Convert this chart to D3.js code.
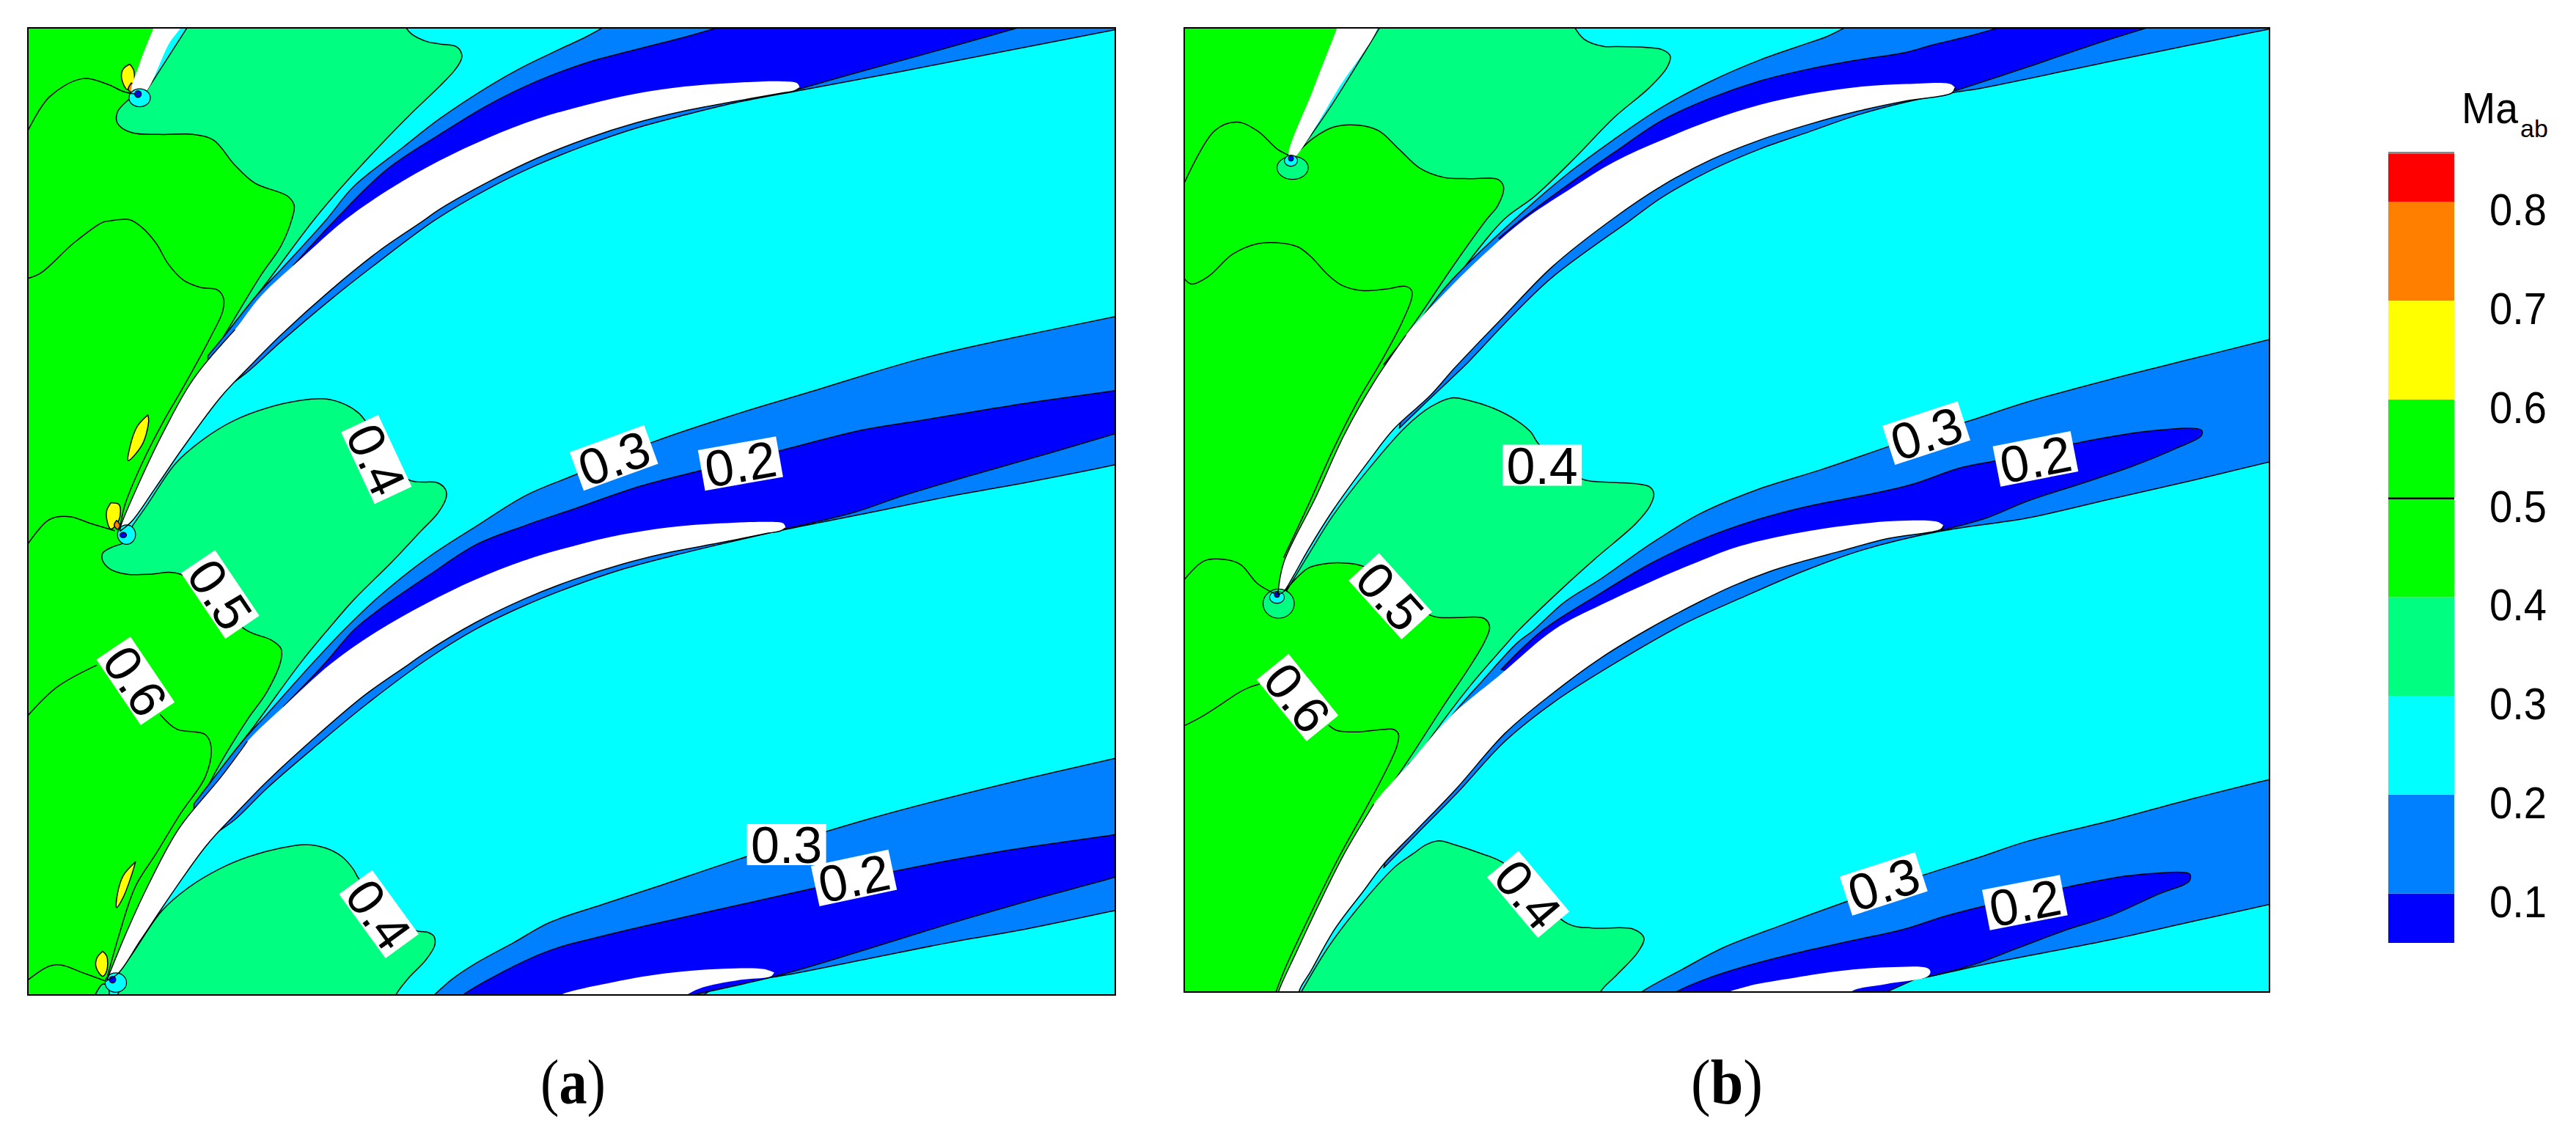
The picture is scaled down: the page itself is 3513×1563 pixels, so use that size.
<!DOCTYPE html>
<html><head><meta charset="utf-8">
<style>html,body{margin:0;background:#fff}svg{display:block}text{font-family:"Liberation Sans",Arial,sans-serif}</style>
<script src="https://cdn.jsdelivr.net/npm/d3@7/dist/d3.min.js"></script></head><body>
<script>
/* Mach-number bands of the colour bar */
const bandEdges=[0.05,0.1,0.2,0.3,0.4,0.6,0.7,0.8,0.85];
const bandColors=["#0000ff","#0080ff","#00ffff","#00ff80","#00ff00","#ffff00","#ff8000","#ff0000"];
const barTicks=[0.8,0.7,0.6,0.5,0.4,0.3,0.2,0.1];
const C={blue:"#0000ff",azure:"#0080ff",spring:"#00ff80",green:"#00ff00",yellow:"#ffff00",orange:"#ff8000",cyan:"#00ffff"};
const rev=a=>a.slice().reverse();

/* ---------- panel (a) contour geometry, grid units ---------- */
const aS1Left=[[165,255],[155,270],[143,300],[143,330],[160,355],[195,360],[235,360],[260,375],[285,440],[310,490],[350,525],[358,550],[355,588],[342,658],[318,735],[283,861],[268,917],[262,945]];
const aS1Right=[[490,60],[500,90],[520,112],[535,118],[556,126],[562,147],[561,161],[553,189],[535,231],[500,305],[460,395],[420,490],[382,588],[327,749],[283,875],[262,945]];
const aS1Blade=[[178,245],[232,60]];
const aS2Left=[[148,1455],[135,1465],[125,1480],[125,1500],[134,1522],[155,1536],[181,1536],[220,1536],[300,1686],[330,1712],[342,1735],[342,1765],[325,1850],[301,1925],[266,2050],[248,2125]];
const aS2Upper=[[162,1404],[179,1351],[214,1239],[247,1176],[283,1127],[324,1092],[366,1071],[396,1067],[420,1082],[437,1106],[445,1127],[495,1281],[533,1292],[542,1309],[543,1330],[533,1372],[512,1421],[476,1505],[431,1603],[399,1684],[365,1775],[310,1940],[266,2065],[248,2125]];
const aS3Upper=[[145,2600],[162,2548],[197,2436],[230,2373],[268,2323],[303,2291],[342,2268],[372,2259],[396,2268],[416,2291],[430,2325],[437,2351],[504,2487],[521,2494],[528,2504],[529,2528],[518,2568],[497,2616],[482,2660],[480,2680]];
const aS3Base=[[140,2680],[147,2640]];
const aS4=[[112,2680],[125,2632],[132,2640],[132,2680]];
const aGreenTop=[[20,60],[190,60]];
const aGreenBlade1=[[190,60],[165,255]];
const aGreenBlade2=[[262,945],[225,1100],[185,1250],[147,1425]];
const aGreenBlade3=[[248,2125],[215,2280],[178,2440],[130,2622]];
const aGreenBase=[[130,2622],[115,2680],[20,2680]];
const aAzure1Upper=[[745,60],[714,98],[684,129],[634,182],[595,231],[535,318],[490,395],[430,500],[397,588],[342,721],[312,791],[274,896],[253,952]];
const aAzure1Lower=[[253,1106],[274,1043],[304,990],[342,914],[402,802],[461,700],[530,588],[595,504],[654,441],[714,388],[774,343],[833,308],[893,276],[976,241],[1100,190],[1240,130],[1357,80],[1372,74],[1372,60]];
const aBlue1Upper=[[895,60],[836,98],[774,133],[714,168],[654,217],[595,280],[535,360],[470,455],[408,588],[357,710]];
const aBlue1Mid=[[400,690],[470,600],[560,460],[650,370],[770,290],[890,250],[970,235]];
const aBlue1Right=[[970,240],[1050,190],[1150,130],[1262,60]];
const aAzure2Upper=[[1372,840],[1357,847],[1230,905],[1120,960],[982,1051],[900,1105],[794,1183],[700,1270],[640,1325],[580,1407],[521,1491],[461,1596],[418,1686],[380,1775],[325,1910],[295,1983],[257,2090],[236,2150]];
const aAzure2Lower=[[236,2300],[257,2240],[287,2190],[325,2108],[385,1994],[444,1887],[518,1766],[578,1684],[637,1621],[697,1568],[757,1523],[816,1488],[876,1456],[956,1416],[1050,1375],[1150,1330],[1250,1290],[1357,1243],[1372,1235]];
const aBlue2Upper=[[1372,1040],[1357,1045],[1230,1085],[1120,1125],[1050,1150],[950,1205],[850,1260],[780,1300],[700,1360],[640,1405],[580,1456],[521,1540],[461,1631],[431,1684],[395,1775],[345,1890]];
const aBlue2Mid=[[385,1880],[470,1760],[570,1620],[690,1510],[820,1440],[950,1408]];
const aBlue2Right=[[955,1415],[1040,1370],[1100,1325],[1200,1260],[1280,1210],[1357,1160],[1372,1150]];
const aAzure3Upper=[[1372,2020],[1357,2028],[1250,2082],[1150,2136],[1050,2195],[900,2297],[800,2371],[732,2420],[669,2467],[625,2521],[580,2575],[550,2619],[529,2660],[520,2680]];
const aAzure3Lower=[[845,2680],[880,2630],[945,2612],[1050,2567],[1150,2523],[1250,2484],[1357,2435],[1372,2428]];
const aBlue3Upper=[[1372,2226],[1357,2232],[1230,2273],[1130,2312],[1000,2371],[900,2420],[800,2469],[732,2504],[684,2531],[654,2555],[595,2619],[564,2660],[555,2680]];
const aBlue3Lower=[[800,2680],[945,2610],[1050,2542],[1150,2474],[1250,2410],[1357,2346],[1372,2335]];
const aBlade1=[[190,60],[222,60],[205,120],[178,245],[168,258],[160,250],[170,170],[190,60]];
const aBlade2Suction=[[973,235],[970,223],[952,218],[893,222],[833,232],[774,251],[714,281],[654,318],[595,368],[535,430],[475,505],[420,588],[366,693],[318,791],[286,882],[235,1015],[199,1155],[170,1288],[147,1407],[146,1421]];
const aBlade2Pressure=[[146,1421],[161,1393],[188,1309],[223,1197],[268,1064],[304,980],[342,896],[402,777],[461,672],[515,591],[535,560],[595,486],[654,423],[714,371],[774,329],[833,297],[893,272],[952,249],[967,243],[973,235]];
const aBlade3Suction=[[956,1412],[953,1400],[935,1396],[876,1400],[816,1410],[757,1430],[697,1461],[637,1500],[578,1551],[518,1615],[458,1690],[403,1775],[349,1882],[301,1983],[269,2078],[218,2215],[182,2360],[153,2498],[130,2622]];
const aBlade3Pressure=[[130,2622],[144,2603],[171,2515],[206,2400],[251,2262],[287,2176],[325,2090],[385,1969],[444,1859],[498,1776],[518,1745],[578,1666],[637,1603],[697,1551],[757,1509],[816,1477],[876,1452],[935,1426],[950,1420],[956,1412]];
const aBlade4Suction=[[942,2601],[930,2592],[880,2591],[800,2606],[732,2633],[705,2646],[683,2660],[670,2680]];
const aBlade4Pressure=[[822,2680],[850,2645],[900,2621],[938,2611],[942,2601]];
const aLines=[[[34,350],[60,260],[100,211],[130,225],[150,245],[165,252]],
 [[34,745],[50,730],[90,650],[125,595],[134,591],[158,588],[173,609],[190,651],[205,707],[223,749],[244,769],[265,776],[272,798],[271,833],[256,903],[223,1036],[199,1127],[173,1239],[152,1351],[146,1414]],
 [[34,1455],[60,1390],[85,1382],[110,1400],[140,1420]],
 [[34,1914],[70,1837],[118,1779]],
 [[195,1911],[215,1950],[250,1965],[257,1999],[250,2077],[220,2175],[190,2283],[165,2370],[145,2500],[131,2610]],
 [[34,2621],[60,2584],[75,2581],[100,2601],[130,2625]]];
const aYellow=[[[158,172],[163,190],[162,230],[155,240],[148,210],[150,185],[158,172]],
 [[180,1110],[181,1127],[173,1190],[156,1232],[158,1197],[167,1141],[180,1110]],
 [[135,1345],[145,1350],[145,1390],[135,1415],[130,1390],[130,1365],[135,1345]],
 [[165,2305],[160,2342],[150,2400],[142,2427],[143,2390],[150,2342],[165,2305]],
 [[125,2544],[130,2557],[130,2596],[125,2611],[117,2587],[118,2562],[125,2544]]];
const aOrange=[[[160,222],[164,235],[162,248],[156,240],[160,222]],[[142,1392],[146,1405],[143,1416],[139,1405],[142,1392]]];
/* elliptical leading-edge bubbles: cx, cy, rx, ry, colour */
const aBubbles=[[170,262,13,24,C.cyan],[168,252,4,9,C.blue],[154,1430,11,26,C.cyan],[150,1431,4,7,C.blue],[141,2628,13,26,C.cyan],[137,2620,4,9,C.blue]];
const aLabels=[["0.4",458,1229,65],["0.3",747,1225,-20],["0.2",901,1240,-10],["0.5",268,1590,56],["0.6",165,1821,56],["0.3",957,2259,0],["0.2",1039,2348,-12],["0.4",461,2445,54]];

/* ---------- panel (b) contour geometry, grid units ---------- */
const bS1Left=[[15,400],[30,370],[55,340],[85,335],[110,350],[135,400],[160,450],[190,475],[220,478],[255,480],[262,500],[255,550],[241,588],[202,707],[161,840],[134,924],[116,975]];
const bS1Right=[[345,60],[360,105],[385,125],[396,125],[434,127],[455,133],[465,150],[461,181],[440,234],[396,316],[350,420],[300,525],[262,588],[202,749],[161,868],[134,925],[116,975]];
const bS1Blade=[[15,400],[50,290],[115,60]];
const bS2Left=[[-6,1585],[9,1547],[24,1519],[42,1508],[65,1505],[92,1515],[173,1645],[184,1651],[208,1651],[238,1653],[245,1676],[239,1715],[220,1785],[190,1883],[155,2002],[125,2100]];
const bS2Upper=[[-3,1582],[24,1484],[54,1379],[98,1253],[143,1141],[173,1088],[199,1064],[220,1071],[250,1092],[277,1123],[295,1155],[305,1188],[358,1281],[367,1286],[396,1290],[425,1294],[440,1302],[445,1320],[440,1354],[423,1400],[375,1491],[336,1568],[280,1686],[264,1725],[220,1837],[175,1967],[140,2079],[125,2100]];
const bS3Upper=[[16,2650],[50,2527],[92,2408],[130,2317],[152,2282],[168,2258],[183,2248],[202,2258],[235,2282],[261,2306],[340,2469],[370,2481],[420,2484],[433,2508],[425,2547],[400,2606],[380,2652],[378,2680]];
const bS3Base=[[14,2680]];
const bGreenTop=[[-140,60],[70,60]];
const bGreenBlade1=[[70,60],[0,415]];
const bGreenBlade2=[[116,975],[110,1100],[70,1250],[25,1420],[-6,1585]];
const bGreenBlade3=[[125,2100],[105,2250],[55,2420],[20,2560],[0,2680]];
const bGreenBase=[[0,2680],[-140,2680]];
const bAzure1Upper=[[690,60],[656,98],[634,115],[574,161],[515,217],[455,287],[396,374],[340,465],[275,588],[196,756],[161,854]];
const bAzure1Lower=[[135,1145],[168,1075],[220,966],[262,868],[321,742],[417,588],[455,528],[515,455],[574,399],[634,353],[693,308],[753,273],[812,247],[842,237],[1000,165],[1100,120],[1195,78],[1210,70],[1210,60]];
const bBlue1Upper=[[890,60],[865,75],[827,98],[782,122],[753,140],[693,161],[634,185],[574,217],[515,262],[455,322],[396,409],[340,495],[283,588],[256,637]];
const bBlue1Mid=[[270,660],[340,560],[420,460],[520,370],[620,295],[720,250],[808,235]];
const bBlue1Right=[[812,243],[900,180],[980,120],[1068,60]];
const bAzure2Upper=[[1210,900],[1195,908],[1100,960],[1000,1015],[900,1075],[830,1125],[750,1180],[650,1255],[570,1310],[500,1375],[440,1456],[381,1547],[336,1610],[298,1686],[279,1718],[235,1823],[205,1897],[175,1981],[146,2044]];
const bAzure2Lower=[[116,2320],[156,2230],[205,2121],[264,1981],[324,1876],[400,1770],[480,1670],[550,1600],[625,1529],[700,1470],[795,1420],[900,1385],[1000,1335],[1100,1285],[1195,1235],[1210,1227]];
const bBlue2Upper=[[1090,1145],[1040,1155],[960,1185],[880,1225],[820,1250],[760,1295],[700,1325],[630,1355],[570,1390],[500,1445],[440,1508],[381,1585],[309,1686],[259,1790]];
const bBlue2Mid=[[280,1800],[380,1660],[500,1540],[640,1440],[795,1408]];
const bBlue2Right=[[795,1418],[850,1385],[900,1340],[970,1290],[1030,1245],[1080,1200],[1112,1165],[1112,1150],[1090,1145]];
const bAzure3Upper=[[1210,2076],[1195,2084],[1100,2136],[1000,2195],[900,2249],[840,2293],[770,2342],[680,2410],[600,2474],[530,2533],[480,2591],[430,2652],[415,2680]];
const bAzure3Lower=[[705,2680],[740,2630],[780,2611],[850,2577],[920,2547],[1000,2513],[1100,2464],[1195,2418],[1210,2410]];
const bBlue3Upper=[[1075,2332],[1020,2342],[950,2371],[880,2405],[800,2449],[750,2484],[690,2513],[620,2547],[560,2581],[510,2616],[472,2652],[455,2680]];
const bBlue3Mid=[[700,2680],[780,2601]];
const bBlue3Right=[[780,2611],[830,2582],[890,2533],[950,2484],[1000,2449],[1060,2390],[1097,2356],[1098,2337],[1075,2332]];
const bBlade1=[[62,60],[108,60],[60,240],[10,415],[3,425],[0,415],[30,240],[62,60]];
const bBlade2Suction=[[812,235],[806,225],[753,225],[693,233],[634,252],[574,281],[515,322],[455,375],[396,434],[340,510],[287,588],[232,693],[187,791],[143,896],[104,1022],[68,1162],[33,1330],[-6,1505],[-13,1590]];
const bBlade2Pressure=[[-13,1590],[-6,1582],[6,1540],[24,1470],[54,1365],[98,1232],[128,1148],[173,1057],[202,985],[262,847],[321,714],[396,584],[455,497],[515,427],[574,375],[634,333],[693,298],[753,270],[808,249],[812,235]];
const bBlade3Suction=[[798,1405],[790,1395],[740,1393],[680,1405],[620,1425],[550,1460],[490,1510],[440,1557],[381,1617],[324,1683],[259,1802],[196,1918],[146,2044],[104,2149],[68,2282],[36,2422],[9,2548],[-12,2650],[-15,2680]];
const bBlade3Pressure=[[14,2680],[13,2650],[27,2597],[56,2485],[92,2380],[116,2310],[156,2219],[205,2107],[264,1960],[321,1855],[380,1760],[440,1680],[500,1610],[540,1568],[585,1529],[620,1505],[670,1475],[730,1440],[795,1415],[798,1405]];
const bBlade4=[[535,2652],[520,2680],[680,2680],[685,2652],[730,2630],[778,2611],[782,2598],[778,2588],[730,2586],[670,2596],[610,2616],[570,2631],[535,2652]];
const bLines=[[[-127,490],[-90,350],[-63,327],[-38,350],[-13,400],[0,415]],
 [[-127,745],[-118,760],[-98,740],[-68,680],[-38,652],[-6,651],[12,661],[27,686],[48,735],[65,763],[89,777],[119,773],[143,766],[150,777],[150,798],[137,868],[113,966],[83,1078],[54,1204],[24,1351],[-6,1491]],
 [[-127,1550],[-103,1500],[-78,1496],[-58,1510],[-38,1560],[-16,1588]],
 [[-127,1940],[-122,1935],[-104,1914],[-84,1886],[-63,1855],[-48,1838],[-35,1829]],
 [[49,1939],[59,1953],[83,1957],[116,1950],[128,1950],[134,1963],[132,1995],[116,2072],[92,2170],[62,2289],[27,2443],[-3,2583],[-15,2650]]];
const bBubbles=[[5,449,19,31,C.spring],[3,430,8,15,C.cyan],[3,424,3,7,C.blue],[-12,1614,19,39,C.spring],[-14,1597,9,16,C.cyan],[-14,1590,3,7,C.blue]];
const bLabels=[["0.4",309,1244,0],["0.3",777,1158,-18],["0.2",910,1227,-11],["0.5",124,1594,48],["0.6",11,1865,51],["0.4",292,2391,50],["0.3",725,2363,-18],["0.2",897,2413,-11]];

const W=3513,H=1563;
const svg=d3.select("body").append("svg").attr("width",W).attr("height",H).attr("viewBox",[0,0,W,H]);
const defs=svg.append("defs");

function drawPanel(id,xDom,xRange,yDom,yRange,layers,lines,bubbles,labels){
  const x=d3.scaleLinear().domain(xDom).range(xRange), y=d3.scaleLinear().domain(yDom).range(yRange);
  defs.append("clipPath").attr("id",id).append("rect").attr("x",xRange[0]).attr("y",yRange[0]).attr("width",xRange[1]-xRange[0]).attr("height",yRange[1]-yRange[0]);
  const g=svg.append("g").attr("clip-path",`url(#${id})`);
  const line=d3.line().x(d=>x(d[0])).y(d=>y(d[1])).curve(d3.curveCatmullRom.alpha(.5));
  const ring=edges=>edges.map((e,i)=>{const s=line(e);return i?"L"+s.slice(1):s;}).join("")+"Z";
  g.append("rect").attr("x",xRange[0]).attr("y",yRange[0]).attr("width",xRange[1]-xRange[0]).attr("height",yRange[1]-yRange[0]).attr("fill",C.cyan);
  g.selectAll("path.r").data(layers).join("path").attr("class","r")
    .attr("d",d=>ring(d.edges)).attr("fill",d=>d.color).attr("stroke",d=>d.stroke?"#000":"none").attr("stroke-width",1.5).attr("stroke-linejoin","round");
  g.selectAll("ellipse").data(bubbles).join("ellipse")
    .attr("cx",d=>x(d[0])).attr("cy",d=>y(d[1])).attr("rx",d=>Math.abs(x(d[2])-x(0))).attr("ry",d=>Math.abs(y(d[3])-y(0)))
    .attr("fill",d=>d[4]).attr("stroke","#000").attr("stroke-width",1.2);
  g.selectAll("path.l").data(lines).join("path").attr("class","l").attr("d",line).attr("fill","none").attr("stroke","#000").attr("stroke-width",1.5);
  const lab=g.selectAll("g.lab").data(labels).join("g").attr("class","lab")
    .attr("transform",d=>`translate(${x(d[1])},${y(d[2])}) rotate(${d[3]})`);
  lab.append("rect").attr("x",-54).attr("y",-28).attr("width",108).attr("height",56).attr("fill","#fff");
  lab.append("text").attr("text-anchor","middle").attr("y",25).attr("font-size",70).attr("fill","#000").text(d=>d[0]);
  svg.append("rect").attr("x",xRange[0]).attr("y",yRange[0]).attr("width",xRange[1]-xRange[0]).attr("height",yRange[1]-yRange[0]).attr("fill","none").attr("stroke","#000").attr("stroke-width",2);
}

const R=(edges,color,stroke=true)=>({edges,color,stroke});
drawPanel("pa",[34,1357],[38,1521],[75,2661],[38,1357],[
  R([aGreenTop,aGreenBlade1,aS1Left,aGreenBlade2,aS2Left,aGreenBlade3,aGreenBase],C.green,false),
  R([aS1Right,rev(aS1Left),aS1Blade],C.spring),R([aS2Upper,rev(aS2Left)],C.spring),R([aS3Upper,aS3Base],C.spring),R([aS4],C.spring),
  R([aAzure1Upper,aAzure1Lower],C.azure),R([aBlue1Upper,aBlue1Mid,aBlue1Right],C.blue),
  R([aAzure2Upper,aAzure2Lower],C.azure),R([aBlue2Upper,aBlue2Mid,aBlue2Right],C.blue),
  R([aAzure3Upper,aAzure3Lower],C.azure),R([aBlue3Upper,aBlue3Lower],C.blue),
  ...aYellow.map(e=>R([e],C.yellow)),...aOrange.map(e=>R([e],C.orange)),
  R([aBlade1],"#fff",false),R([aBlade2Suction,aBlade2Pressure],"#fff",false),R([aBlade3Suction,aBlade3Pressure],"#fff",false),R([aBlade4Suction,aBlade4Pressure],"#fff",false)
],[...aLines,aBlade2Pressure,aBlade3Pressure,aBlade2Suction.slice(-6),aBlade3Suction.slice(-6)],aBubbles,aLabels);
drawPanel("pb",[-127,1195],[1615,3095],[75,2652],[38,1353],[
  R([bGreenTop,bGreenBlade1,bS1Left,bGreenBlade2,bS2Left,bGreenBlade3,bGreenBase],C.green,false),
  R([bS1Right,rev(bS1Left),bS1Blade],C.spring),R([bS2Upper,rev(bS2Left)],C.spring),R([bS3Upper,bS3Base],C.spring),
  R([bAzure1Upper,bAzure1Lower],C.azure),R([bBlue1Upper,bBlue1Mid,bBlue1Right],C.blue),
  R([bAzure2Upper,bAzure2Lower],C.azure),R([bBlue2Upper,bBlue2Mid,bBlue2Right],C.blue),
  R([bAzure3Upper,bAzure3Lower],C.azure),R([bBlue3Upper,bBlue3Mid,bBlue3Right],C.blue),
  R([bBlade1],"#fff",false),R([bBlade2Suction,bBlade2Pressure],"#fff",false),R([bBlade3Suction,bBlade3Pressure],"#fff",false),R([bBlade4],"#fff",false)
],[...bLines,bBlade2Pressure,bBlade3Pressure,bBlade2Suction.slice(-6),bBlade3Suction.slice(-6)],bBubbles,bLabels);

/* colour bar */
const barY=d3.scaleLinear().domain([0.05,0.85]).range([1286,208]);
const barX=3257,barW=90;
svg.selectAll("rect.band").data(d3.pairs(bandEdges)).join("rect").attr("class","band")
  .attr("x",barX).attr("width",barW).attr("y",d=>barY(d[1])).attr("height",d=>barY(d[0])-barY(d[1])).attr("fill",(d,i)=>bandColors[i]);
svg.append("rect").attr("x",barX).attr("width",barW).attr("y",barY(0.85)-1).attr("height",3).attr("fill","#888");
svg.append("line").attr("x1",barX).attr("x2",barX+barW).attr("y1",barY(0.5)).attr("y2",barY(0.5)).attr("stroke","#000").attr("stroke-width",2.5);
svg.selectAll("text.tick").data(barTicks).join("text").attr("class","tick")
  .attr("x",3395).attr("y",d=>barY(d)+32).attr("font-size",61).attr("textLength",78).attr("lengthAdjust","spacingAndGlyphs").text(d=>d.toFixed(1));
svg.append("text").attr("x",3357).attr("y",168).attr("font-size",60).attr("textLength",77).attr("lengthAdjust","spacingAndGlyphs").text("Ma");
svg.append("text").attr("x",3437).attr("y",187).attr("font-size",34).text("ab");

/* captions */
const captions=[["a",737],["b",2306]];
captions.forEach(([t,x0])=>{
  const c=svg.append("text").attr("x",x0).attr("y",1505).attr("font-size",87).attr("textLength",t==="a"?89:98).attr("lengthAdjust","spacingAndGlyphs").style("font-family","'Liberation Serif',serif");
  c.append("tspan").text("(");c.append("tspan").attr("font-weight","bold").text(t);c.append("tspan").text(")");
});
</script></body></html>
